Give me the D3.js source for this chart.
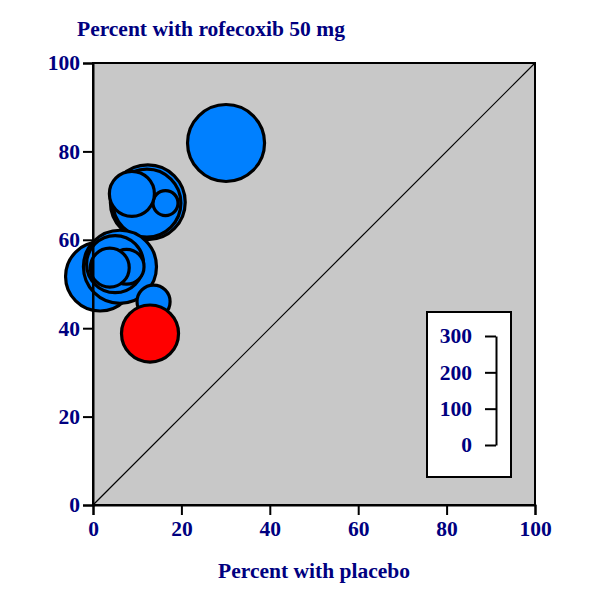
<!DOCTYPE html>
<html>
<head>
<meta charset="utf-8">
<script src="https://cdn.jsdelivr.net/npm/d3@7"></script>
<style>
  html, body { margin: 0; padding: 0; background: #ffffff; }
  svg { display: block; }
  text { font-family: "Liberation Serif", "Times New Roman", serif; font-weight: bold; fill: #000080; }
</style>
</head>
<body>
<svg id="chart" width="600" height="600"></svg>
<script>
// ---- data ----
const placebo   = [12.4, 12.2, 16.4, 8.8, 30.1, 1.6, 6.1, 5.0, 7.6, 3.8, 13.7, 12.9];
const rofecoxib = [68.5, 68.3, 68.3, 70.4, 81.9, 51.7, 53.9, 54.5, 53.9, 53.7, 46.0, 38.8];
const sizes     = [206, 187, 69, 124, 212, 190, 201, 157, 96, 107, 91, 157];
const highlight = [false, false, false, false, false, false, false, false, false, false, false, true];
const axisTicks = [0, 20, 40, 60, 80, 100];
const legendTicks = [0, 100, 200, 300];
const xTitle = "Percent with placebo";
const yTitle = "Percent with rofecoxib 50 mg";

const svg = d3.select("#chart");
const pLeft = 93, pRight = 535, pTop = 63, pBottom = 505;
const fs = 21.5;

const x = d3.scaleLinear().domain([0, 100]).range([pLeft, pRight]);
const y = d3.scaleLinear().domain([0, 100]).range([pBottom, pTop]);
const sizeLen = d3.scaleLinear().domain([0, 300]).range([0, 109]); // diameter in px
const legendY = d3.scaleLinear().domain([0, 300]).range([445, 336]);

// plot background
svg.append("rect")
  .attr("x", pLeft).attr("y", pTop)
  .attr("width", pRight - pLeft).attr("height", pBottom - pTop)
  .attr("fill", "#c8c8c8");

// diagonal line of equality
svg.append("line")
  .attr("x1", x(0)).attr("y1", y(0))
  .attr("x2", x(100)).attr("y2", y(100))
  .attr("stroke", "#000").attr("stroke-width", 1.2);

// bubbles
const data = placebo.map((p, i) => ({ p, r: rofecoxib[i], n: sizes[i], hl: highlight[i] }));
svg.append("g").selectAll("circle")
  .data(data)
  .join("circle")
  .attr("cx", d => x(d.p))
  .attr("cy", d => y(d.r))
  .attr("r", d => sizeLen(d.n) / 2)
  .attr("fill", d => d.hl ? "#ff0000" : "#0080ff")
  .attr("stroke", "#000")
  .attr("stroke-width", 3.2);

// frame
svg.append("rect")
  .attr("x", pLeft).attr("y", pTop)
  .attr("width", pRight - pLeft).attr("height", pBottom - pTop)
  .attr("fill", "none").attr("stroke", "#000").attr("stroke-width", 2);

// axes
const xAxis = svg.append("g")
  .attr("transform", `translate(0,${pBottom})`)
  .call(d3.axisBottom(x).tickValues(axisTicks).tickSize(10).tickPadding(6).tickFormat(d3.format("d")));
const yAxis = svg.append("g")
  .attr("transform", `translate(${pLeft},0)`)
  .call(d3.axisLeft(y).tickValues(axisTicks).tickSize(10).tickPadding(3).tickFormat(d3.format("d")));
[xAxis, yAxis].forEach(a => {
  a.select(".domain").attr("stroke", "#000").attr("stroke-width", 2);
  a.selectAll(".tick line").attr("stroke", "#000").attr("stroke-width", 2);
  a.selectAll(".tick text")
    .attr("font-family", '"Liberation Serif", serif')
    .attr("font-weight", "bold")
    .attr("font-size", fs)
    .attr("fill", "#000080");
});

// titles
svg.append("text")
  .attr("x", 77).attr("y", 36)
  .attr("font-size", fs)
  .text(yTitle);
svg.append("text")
  .attr("x", (pLeft + pRight) / 2).attr("y", 578)
  .attr("text-anchor", "middle")
  .attr("font-size", fs)
  .text(xTitle);

// legend
svg.append("rect")
  .attr("x", 427).attr("y", 312)
  .attr("width", 84).attr("height", 165)
  .attr("fill", "#ffffff").attr("stroke", "#000").attr("stroke-width", 2);
const leg = svg.append("g")
  .attr("transform", "translate(496,0)")
  .call(d3.axisLeft(legendY).tickValues(legendTicks).tickSize(11).tickSizeOuter(0).tickPadding(13).tickFormat(d3.format("d")));
leg.select(".domain").attr("stroke", "#000").attr("stroke-width", 2);
leg.selectAll(".tick line").attr("stroke", "#000").attr("stroke-width", 2);
leg.selectAll(".tick text")
  .attr("font-family", '"Liberation Serif", serif')
  .attr("font-weight", "bold")
  .attr("font-size", fs)
  .attr("fill", "#000080");
</script>
</body>
</html>
